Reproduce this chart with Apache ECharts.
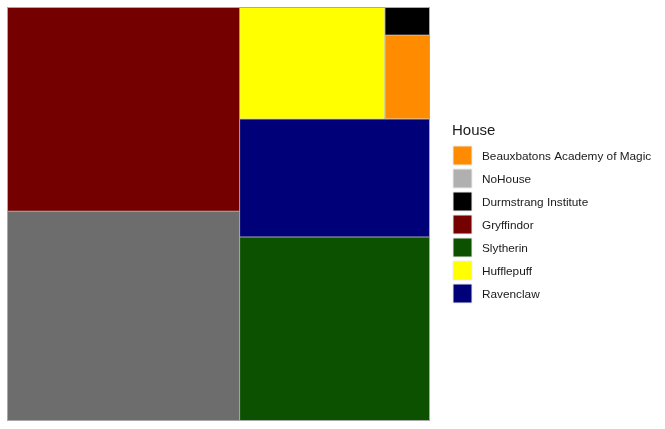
<!DOCTYPE html>
<html>
<head>
<meta charset="utf-8">
<script src="https://cdn.jsdelivr.net/npm/echarts@6/dist/echarts.min.js"></script>
<style>
html, body { margin: 0; padding: 0; background: #fff; }
#main { width: 665px; height: 429px; }
</style>
</head>
<body>
<div id="main"></div>
<script>
// 各学院人数（按画面从左到右、从上到下的顺序）
var houseNames = ['Gryffindor', 'NoHouse', 'Hufflepuff', 'Durmstrang Institute', 'Beauxbatons Academy of Magic', 'Ravenclaw', 'Slytherin'];
var houseCounts = [38, 39, 13, 1, 3, 18, 28];
var houseColors = ['#740000', '#6d6d6d', '#ffff00', '#000000', '#ff8c00', '#000078', '#0b5100'];
// 右上角这几个挤在一起的块
var topGroup = ['Hufflepuff', 'Durmstrang Institute', 'Beauxbatons Academy of Magic'];

// 图例
var legendTitle = 'House';
var legendNames = ['Beauxbatons Academy of Magic', 'NoHouse', 'Durmstrang Institute', 'Gryffindor', 'Slytherin', 'Hufflepuff', 'Ravenclaw'];
var legendColors = ['#ff8c00', '#b0b0b0', '#000000', '#740000', '#0b5100', '#ffff00', '#000078'];

var myChart = echarts.init(document.getElementById('main'));

// 组装树形数据
var treeData = [];
var groupNode = null;
houseNames.forEach(function(name, i) {
    var leaf = {
        name: name,
        value: houseCounts[i],
        itemStyle: { color: houseColors[i] }
    };
    if (topGroup.indexOf(name) >= 0) {
        if (groupNode == null) {
            groupNode = { name: 'top', children: [] };
            treeData.push(groupNode);
        }
        groupNode.children.push(leaf);
    } else {
        treeData.push(leaf);
    }
});

// 图例用graphic画
var legendGraphics = [{
    type: 'text',
    x: 452,
    y: 131,
    style: {
        text: legendTitle,
        fill: '#1a1a1a',
        font: '15px "Liberation Sans", Arial, sans-serif',
        verticalAlign: 'middle'
    }
}];
legendNames.forEach(function(name, i) {
    legendGraphics.push({
        type: 'rect',
        shape: { x: 453, y: 146 + 23 * i, width: 19, height: 19 },
        style: { fill: legendColors[i], stroke: '#ebebeb', lineWidth: 1 }
    });
    legendGraphics.push({
        type: 'text',
        x: 482,
        y: 157 + 23 * i,
        style: {
            text: name,
            fill: '#1a1a1a',
            font: '11.8px "Liberation Sans", Arial, sans-serif',
            verticalAlign: 'middle'
        }
    });
});

var option = {
    animation: false,
    graphic: legendGraphics,
    series: [{
        type: 'treemap',
        left: 7,
        top: 7,
        width: 423,
        height: 414,
        roam: false,
        nodeClick: false,
        sort: false,
        squareRatio: 1,
        breadcrumb: { show: false },
        label: { show: false },
        upperLabel: { show: false },
        levels: [
            { itemStyle: { borderColor: '#a8a8a8', borderWidth: 1, gapWidth: 1 } },
            { itemStyle: { borderColor: '#a8a8a8', borderWidth: 0, gapWidth: 1 } },
            { itemStyle: { borderWidth: 0 } }
        ],
        data: treeData
    }]
};

myChart.setOption(option);
</script>
</body>
</html>
